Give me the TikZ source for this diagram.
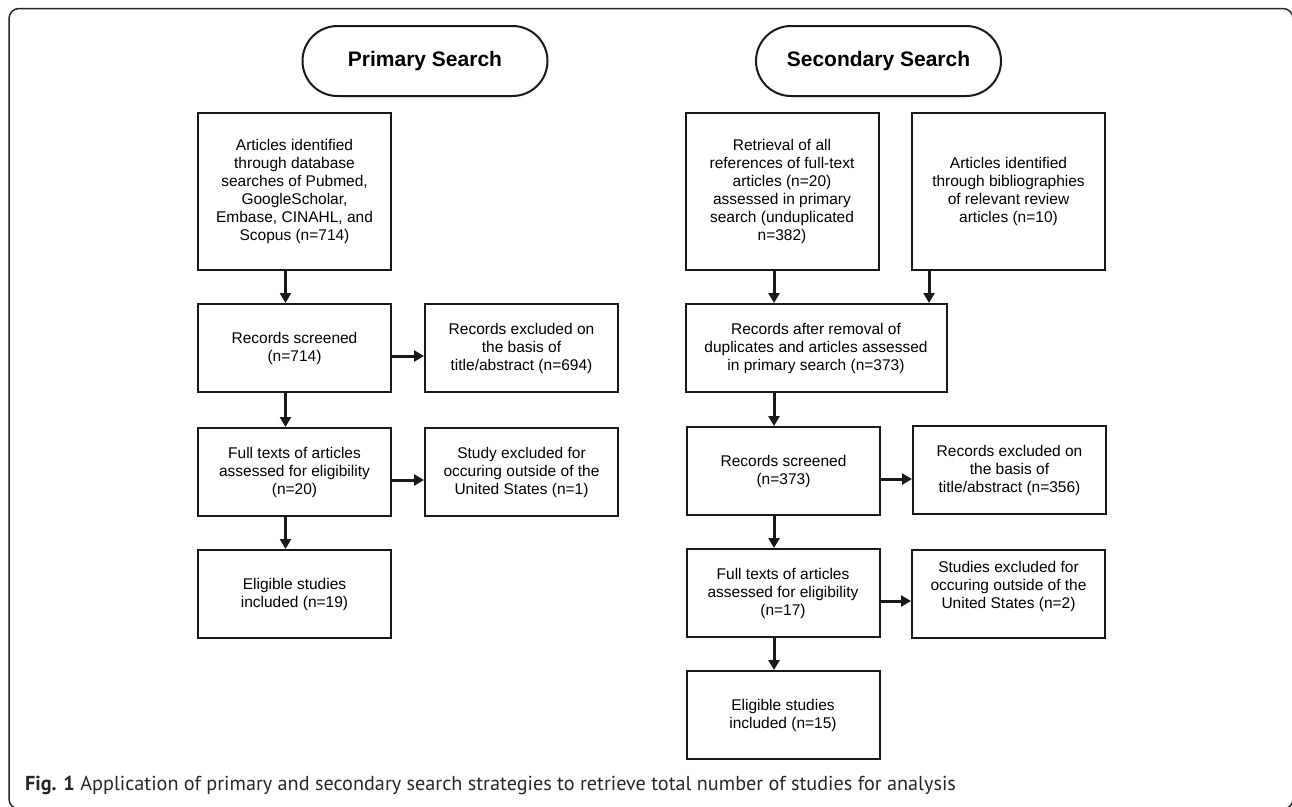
\documentclass[tikz,border=0pt]{standalone}
\usepackage{fontspec}
\setmainfont{Liberation Sans}
\newfontfamily\capfont{PT Sans}
\usetikzlibrary{arrows.meta}
\begin{document}
\begin{tikzpicture}[x=1pt,y=-1pt,
  box/.style={draw=black!90, line width=2pt, align=center, inner sep=2pt,
    font=\fontsize{15.5}{18}\selectfont, minimum width=193pt, minimum height=88pt},
  tall/.style={minimum height=157pt},
  titlebox/.style={draw=black!90, line width=2pt, rounded corners=35pt,
    minimum width=245pt, minimum height=70pt, font=\fontsize{21}{25}\selectfont\bfseries},
  arr/.style={line width=3pt, draw=black!90, -{Triangle[length=10pt,width=11pt]}},
  frame/.style={draw=black!85, line width=1.5pt, rounded corners=10pt}]
\useasboundingbox (0,0) rectangle (1292,806);
\draw[frame] (9,8.5) rectangle (1293,809);

% Primary search
\node[titlebox] (ps) at (425,61) {Primary Search};
\node[box,tall] (pa) at (294.5,191.5) {Articles identified\\through database\\searches of Pubmed,\\GoogleScholar,\\Embase, CINAHL, and\\Scopus (n=714)};
\node[box] (pr) at (294.5,348) {Records screened\\(n=714)};
\node[box] (pe1) at (521.5,348) {Records excluded on\\the basis of\\title/abstract (n=694)};
\node[box] (pf) at (294.5,472) {Full texts of articles\\assessed for eligibility\\(n=20)};
\node[box] (pe2) at (521.5,472) {Study excluded for\\occuring outside of the\\United States (n=1)};
\node[box] (pel) at (294.5,594) {Eligible studies\\included (n=19)};

\draw[arr] ([xshift=-9pt]pa.south) -- ([xshift=-9pt]pa.south |- pr.north);
\draw[arr] ([xshift=-9pt]pr.south) -- ([xshift=-9pt]pr.south |- pf.north);
\draw[arr] ([xshift=-9pt]pf.south) -- ([xshift=-9pt]pf.south |- pel.north);
\draw[arr] ([yshift=-8pt]pr.east) -- ([yshift=-8pt]pr.east -| pe1.west);
\draw[arr] ([yshift=-8pt]pf.east) -- ([yshift=-8pt]pf.east -| pe2.west);

% Secondary search
\node[titlebox] (ss) at (878.5,61) {Secondary Search};
\node[box,tall] (sa) at (782,191.5) {Retrieval of all\\references of full-text\\articles (n=20)\\assessed in primary\\search (unduplicated\\n=382)};
\node[box,tall] (sb) at (1008.5,191.5) {Articles identified\\through bibliographies\\of relevant review\\articles (n=10)};
\node[box,minimum width=261pt] (sr) at (816,348) {Records after removal of\\duplicates and articles assessed\\in primary search (n=373)};
\node[box] (sc) at (783.5,471) {Records screened\\(n=373)};
\node[box] (se1) at (1009.5,470) {Records excluded on\\the basis of\\title/abstract (n=356)};
\node[box] (sf) at (783,593) {Full texts of articles\\assessed for eligibility\\(n=17)};
\node[box] (se2) at (1008.5,594) {Studies excluded for\\occuring outside of the\\United States (n=2)\\\mbox{}};
\node[box] (sel) at (783,715) {Eligible studies\\included (n=15)};

\draw[arr] ([xshift=-8pt]sa.south) -- ([xshift=-8pt]sa.south |- sr.north);
\draw[arr] ([xshift=18pt]sb.south west) -- ([xshift=18pt]sb.south west |- sr.north);
\draw[arr] ([xshift=-9.5pt]sc.north |- sr.south) -- ([xshift=-9.5pt]sc.north);
\draw[arr] ([xshift=-9.5pt]sc.south) -- ([xshift=-9.5pt]sc.south |- sf.north);
\draw[arr] ([xshift=-9pt]sf.south) -- ([xshift=-9pt]sf.south |- sel.north);
\draw[arr] ([yshift=-8pt]sc.east) -- ([yshift=-8pt]sc.east -| se1.west);
\draw[arr] ([yshift=-8pt]sf.east) -- ([yshift=-8pt]sf.east -| se2.west);

% Caption
\node[anchor=base west, inner sep=0pt, font=\capfont\fontsize{20.2}{24}\selectfont, text=black!85] (cap) at (25,790)
  {\textbf{Fig. 1} Application of primary and secondary search strategies to retrieve total number of studies for analysis};
\end{tikzpicture}
\end{document}
